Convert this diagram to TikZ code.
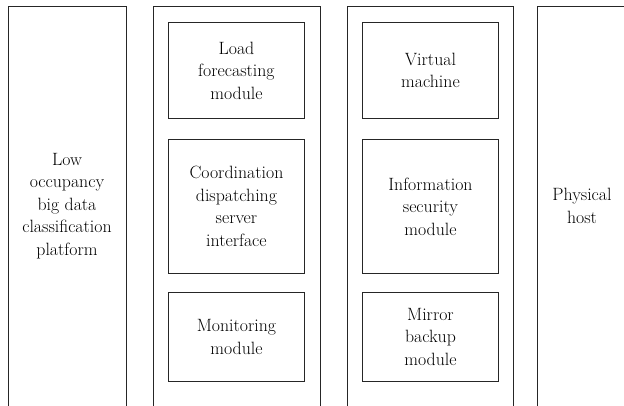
\documentclass[tikz,border=0pt]{standalone}
\usepackage{fontspec}
\setmainfont{Latin Modern Roman}
\begin{document}
\begin{tikzpicture}[x=1pt,y=-1pt,
  frame/.style={draw=black!85,line width=0.9pt},
  lbl/.style={align=center,font=\fontsize{17.8}{22.5}\selectfont,inner sep=0pt},
  modbox/.style={frame,lbl,minimum width=136pt,anchor=north west}]
\useasboundingbox (0,0) rectangle (624,406);
\begin{scope}
\clip (0,0) rectangle (624,406);
% open columns
\draw[frame] (8,410) -- (8,6) -- (126,6) -- (126,410);
\draw[frame] (153,410) -- (153,6) -- (320,6) -- (320,410);
\draw[frame] (347,410) -- (347,6) -- (513,6) -- (513,410);
\draw[frame] (537,410) -- (537,6) -- (630,6);
\end{scope}
\node[lbl] (platform) at (67,206) {Low\\occupancy\\big data\\classification\\platform};
\node[lbl] (host) at (582,206) {Physical\\host};
% column 2
\node[modbox,minimum height=96pt] (load) at (168,22) {Load\\forecasting\\module};
\node[modbox,minimum height=134pt] (coord) at (168,139) {Coordination\\dispatching\\server\\interface};
\node[modbox,minimum height=89pt] (monitor) at (168,292) {Monitoring\\module};
% column 3
\node[modbox,minimum height=96pt] (vm) at (362,22) {Virtual\\machine};
\node[modbox,minimum height=134pt] (infosec) at (362,139) {Information\\security\\module};
\node[modbox,minimum height=89pt] (mirror) at (362,292) {Mirror\\backup\\module};
\end{tikzpicture}
\end{document}
